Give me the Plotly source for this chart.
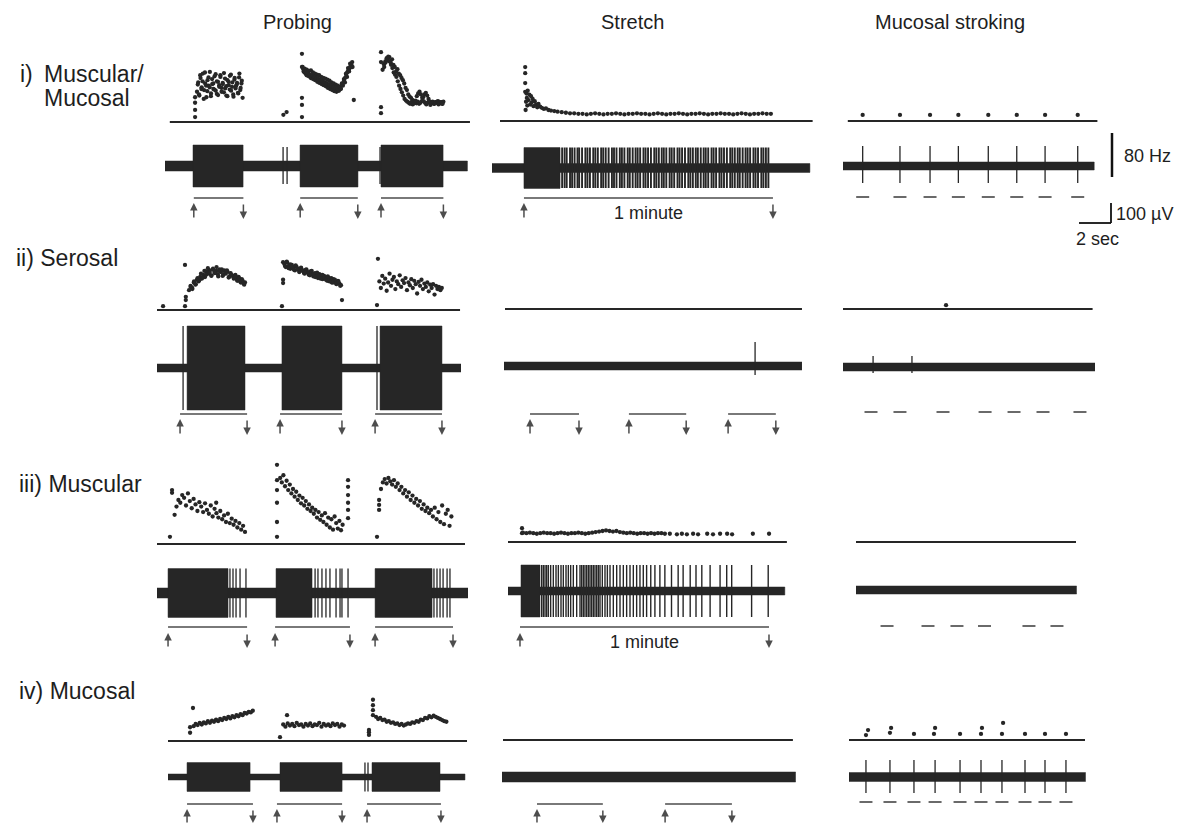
import numpy as np
import plotly.graph_objects as go

W, H = 1184, 824

# ---------------- scales (taken from the scale bars) ----------------
PX_PER_HZ = 0.55      # 80 Hz bar
PX_PER_UV = 0.20      # 100 uV bar
PPS_SHORT = 16.0      # 2 sec bar (probing / stroking), pixels per second
PPS_STRETCH = 4.15    # 1 minute bar

COLUMN_TITLES = ["Probing", "Stretch", "Mucosal stroking"]

# ================= DATA (seconds, Hz, uV) =================
# ---- row i : Muscular/Mucosal ----
R1P_BLOCKS = [(1.75, 4.88), (8.44, 12.06), (13.50, 17.38)]
R1P_SPIKES = [7.38, 7.63, 13.44]
R1P_STIM = [(1.80, 4.90), (8.45, 12.05), (13.50, 17.40)]
R1P_DOT_T = [1.88, 1.88, 1.88, 1.88, 7.40, 7.60, 8.56, 8.56, 8.56, 8.56, 8.56, 11.80, 13.50, 13.50, 13.50, 13.50]
R1P_DOT_F = [9, 22, 35, 45, 13, 18, 124, 100, 44, 31, 9, 40, 127, 109, 27, 16]
R1P_B1_F = [55, 72, 48, 80, 63, 88, 58, 70, 45, 76, 66, 91, 52, 69, 60, 83, 57, 74, 49, 67,
            85, 62, 71, 54, 79, 65, 47, 73, 59, 86, 64, 50, 77, 61, 68, 53, 81, 58, 70, 44]
R1P_B1b_F = [68, 50, 85, 60, 74, 42, 90, 66, 56, 81, 63, 47, 78, 70, 59, 87, 51, 73, 64, 82,
             55, 69, 89, 61, 48, 76, 67, 84, 57, 72, 46, 80, 65, 71, 52, 88, 62, 75]
R1P_B2_F = [100, 92, 97, 88, 95, 90, 93, 86, 94, 84, 90, 83, 88, 80, 86, 78, 85, 76, 82, 75,
            80, 72, 79, 70, 77, 68, 75, 66, 72, 63, 70, 60, 68, 58, 66, 57, 64, 60, 70, 66,
            78, 72, 88, 82, 98, 92, 106, 100, 109]
R1P_B2b_F = [96, 90, 91, 85, 89, 83, 86, 80, 84, 78, 82, 76, 80, 73, 78, 71, 76, 69, 74, 67,
             72, 65, 70, 62, 68, 60, 66, 58, 64, 56, 62, 55, 60, 57, 63, 61, 68, 70, 75, 80,
             86, 90, 94, 97, 101, 104, 100]
R1P_B3_F = [95, 105, 110, 116, 112, 118, 108, 114, 104, 100, 92, 96, 88, 85, 80, 76, 70, 62,
            58, 50, 46, 44, 40, 38, 36, 34, 37, 33, 35, 38, 45, 50, 53, 48, 42, 36, 34, 37,
            33, 36, 35, 38, 34, 36, 33, 37]
R1P_B3b_F = [100, 108, 114, 119, 110, 104, 98, 90, 86, 82, 74, 66, 60, 54, 48, 42, 39, 37, 35,
             33, 36, 32, 34, 39, 47, 52, 55, 50, 44, 38, 35, 32, 35, 38, 31, 34, 36, 33, 35,
             37, 32, 34, 36, 33]

R1S_BLOCKS = [(7.7, 16.4)]
R1S_SPIKES = [16.9, 17.5, 18.0, 18.8, 19.3, 19.9, 20.6, 21.0, 21.7, 22.5, 23.0, 23.6, 24.4,
              24.9, 25.5, 26.3, 26.8, 27.4, 28.1, 28.9, 29.4, 30.0, 30.8, 31.3, 31.9, 32.7,
              33.2, 33.9, 34.6, 35.1, 35.7, 36.5, 37.0, 37.6, 38.3, 39.1, 39.6, 40.2, 40.9,
              41.4, 42.0, 42.8, 43.3, 43.9, 44.7, 45.2, 45.8, 46.5, 47.3, 47.8, 48.4, 49.1,
              49.6, 50.3, 51.0, 51.5, 52.1, 52.9, 53.4, 54.0, 54.8, 55.3, 55.9, 56.6, 57.4,
              57.9, 58.5, 59.2, 59.7, 60.4, 61.1, 61.6, 62.2, 63.0, 63.5, 64.1, 64.9, 65.4,
              66.0, 66.6]
R1S_STIM = [(7.7, 67.7)]
R1S_DOT_T = [8.0, 8.0, 8.0, 8.0, 8.1, 8.2, 8.3, 8.4, 8.5, 8.6, 8.8, 9.0, 9.2, 9.4, 9.6, 9.8,
             10.0, 10.3, 10.6, 10.9, 11.2, 11.6, 12.0, 12.5, 13.0, 13.6, 14.2, 15.0, 15.8,
             16.8, 17.8, 18.8]
R1S_DOT_F = [98, 87, 69, 53, 20, 35, 50, 42, 28, 55, 38, 48, 30, 45, 34, 40, 27, 36, 30, 25,
             31, 26, 24, 22, 23, 20, 19, 18, 17, 16, 15, 14]
R1S_TAIL_F = [14, 13, 13, 12, 13, 14, 13, 12, 13, 13, 14, 13, 12, 13, 13, 14, 13, 13, 12, 13,
              14, 13, 12, 13, 13, 14, 13, 12, 13, 13, 14, 13, 12, 13, 13, 14, 13, 13, 12, 13,
              14, 13, 12, 13, 13, 14, 13, 13]

R1K_STROKES = [1.23, 3.56, 5.44, 7.21, 9.08, 10.86, 12.63, 14.67]
R1K_DOT_F = [11, 11, 11, 11, 11, 11, 11, 11]

# ---- row ii : Serosal ----
R2P_BLOCKS = [(1.88, 5.50), (7.81, 11.56), (13.94, 17.81)]
R2P_SPIKES = [1.63, 13.75]
R2P_STIM = [(1.44, 5.63), (7.69, 11.56), (13.63, 17.81)]
R2P_DOT_T = [0.38, 1.75, 1.80, 1.80, 1.75, 7.81, 7.88, 7.88, 7.88, 11.56, 13.75, 13.81]
R2P_DOT_F = [7, 7, 18, 24, 82, 7, 49, 55, 87, 18, 9, 93]
R2P_B1_F = [36, 44, 40, 50, 46, 55, 52, 60, 57, 64, 60, 70, 66, 72, 63, 75, 68, 71, 65, 74,
            69, 62, 72, 66, 70, 60, 67, 63, 58, 64, 55, 60, 52, 56, 48, 50]
R2P_B1b_F = [42, 38, 52, 47, 58, 54, 66, 59, 71, 64, 76, 68, 62, 73, 67, 78, 61, 70, 74, 64,
             68, 72, 59, 66, 62, 57, 61, 53, 58, 50, 54, 46]
R2P_B2_F = [84, 78, 86, 80, 75, 82, 77, 72, 79, 74, 70, 76, 71, 67, 73, 68, 64, 70, 66, 61,
            67, 63, 58, 65, 60, 56, 62, 57, 53, 59, 54, 50, 56, 51, 47, 53, 48, 45]
R2P_B2b_F = [80, 88, 76, 83, 79, 73, 81, 75, 69, 77, 72, 66, 74, 69, 63, 71, 65, 60, 68, 62,
             57, 64, 59, 55, 61, 52, 58, 50, 55, 49, 52, 44]
R2P_B3_F = [52, 40, 62, 48, 57, 35, 50, 66, 44, 55, 60, 38, 52, 47, 63, 42, 54, 49, 58, 36,
            50, 45, 56, 40, 53, 47, 30, 51, 44, 55, 38, 48, 42, 50, 34, 46, 40, 47, 28, 44,
            38, 42, 36, 40]

R2S_SPIKES = [60.5]
R2S_STIM = [(6.27, 18.07), (30.1, 43.9), (54.0, 65.5)]

R2K_SPIKES = [1.88, 4.31]
R2K_DOT_T = [6.44]
R2K_DOT_F = [7]
R2K_STROKES = [1.75, 3.56, 6.25, 8.88, 10.69, 12.50, 14.81]

# ---- row iii : Muscular ----
R3P_BLOCKS = [(0.69, 4.44), (7.44, 9.69), (13.63, 17.19)]
R3P_SPIKES = [4.56, 4.75, 4.94, 5.19, 5.56, 9.88, 10.06, 10.31, 10.56, 10.81, 11.19, 11.44,
              11.56, 11.94, 17.31, 17.50, 17.69, 17.88, 18.13, 18.31]
R3P_STIM = [(0.69, 5.63), (7.38, 12.06), (13.63, 18.50)]
R3P_DOT_T = [0.81, 0.94, 0.94, 7.50, 7.50, 7.50, 7.50, 7.50, 7.50, 11.94, 11.94, 11.94,
             11.94, 11.94, 11.94, 13.75, 13.88, 13.88, 13.88, 3.70]
R3P_DOT_F = [13, 98, 93, 13, 40, 75, 144, 116, 98, 116, 104, 89, 75, 62, 47, 13, 62, 71, 80, 75]
R3P_B1_F = [53, 68, 80, 75, 89, 84, 70, 92, 78, 65, 82, 72, 60, 76, 68, 58, 74, 62, 55, 70,
            50, 64, 56, 48, 60, 45, 52, 40, 55, 38, 46, 35, 42, 30, 38, 26, 33, 22]
R3P_B2_F = [120, 112, 125, 105, 115, 98, 108, 92, 100, 86, 95, 80, 88, 74, 84, 70, 78, 64, 72,
            60, 66, 55, 62, 48, 58, 44, 52, 40, 56, 35, 48, 30, 45, 26, 50, 38, 28, 42, 25, 35]
R3P_B3_F = [100, 112, 118, 110, 120, 114, 108, 116, 104, 110, 98, 104, 92, 98, 86, 94, 80, 88,
            75, 82, 70, 78, 64, 72, 60, 66, 56, 62, 50, 66, 45, 58, 40, 70, 36, 55, 62, 33, 50]

R3S_BLOCKS = [(3.13, 7.71)]
R3S_SPIKES = [8.11, 8.51, 8.92, 9.32, 9.72, 10.28, 10.92, 11.57, 12.13, 12.77, 13.33, 13.98,
              14.54, 15.10, 15.74, 16.55, 17.35, 17.75, 18.15, 18.55, 18.96, 19.36, 19.76,
              20.16, 20.56, 20.96, 21.37, 21.77, 22.17, 22.73, 23.37, 23.94, 24.58, 25.38,
              26.19, 26.99, 27.79, 28.59, 29.40, 30.20, 31.00, 31.80, 32.60, 33.40, 34.40,
              35.40, 36.60, 37.80, 39.40, 41.00, 42.20, 43.90, 45.30, 46.70, 48.70, 51.10,
              52.70, 53.90, 58.70, 62.70]
R3S_STIM = [(2.89, 62.89)]
R3S_DOT_T = [3.37, 3.37, 39.0, 40.7, 41.9, 43.1, 44.6, 45.8, 48.0, 49.4, 51.1, 52.8, 54.0,
             59.0, 62.9]
R3S_DOT_F = [25, 16, 15, 14, 15, 14, 15, 14, 15, 14, 15, 15, 14, 15, 15]
R3S_BAND_F = [17, 16, 17, 16, 15, 16, 17, 16, 16, 15, 16, 17, 16, 15, 16, 16, 17, 16, 15, 16,
              17, 18, 19, 20, 21, 20, 19, 20, 18, 17, 16, 17, 16, 15, 16, 16, 15, 16, 15, 16,
              16, 15]

R3K_STROKES = [1.94, 4.50, 6.31, 8.03, 10.81, 12.56]

# ---- row iv : Mucosal ----
R4P_BLOCKS = [(1.19, 5.13), (7.00, 10.88), (12.75, 17.00)]
R4P_SPIKES = [12.31, 12.50]
R4P_STIM = [(1.19, 5.31), (6.81, 10.88), (12.44, 17.06)]
R4P_DOT_T = [1.38, 1.38, 1.56, 7.00, 7.44, 12.56, 12.56, 12.56, 12.81, 12.81, 12.81, 12.81]
R4P_DOT_F = [15, 25, 60, 7, 47, 11, 16, 20, 75, 65, 56, 47]
R4P_B1_F = [27, 31, 29, 33, 30, 34, 32, 36, 33, 37, 35, 39, 36, 40, 38, 42, 40, 44, 41, 45,
            43, 47, 45, 49, 47, 51, 50, 53, 52, 55]
R4P_B2_F = [30, 26, 32, 28, 31, 27, 33, 29, 30, 26, 31, 28, 32, 27, 30, 29, 33, 26, 31, 28,
            30, 27, 32, 29, 31, 26, 30, 28]
R4P_B3_F = [44, 40, 42, 38, 39, 35, 36, 33, 34, 31, 32, 29, 31, 28, 30, 32, 31, 34, 33, 36,
            35, 39, 38, 42, 41, 45, 43, 46, 44, 42, 40, 38, 36, 35]

R4S_STIM = [(8.43, 24.3), (39.3, 55.4)]

R4K_STROKES = [1.06, 2.56, 4.06, 5.38, 6.94, 8.25, 9.56, 11.00, 12.25, 13.56]
R4K_DOT_T = [1.06, 1.19, 2.56, 2.63, 4.06, 5.31, 5.38, 6.94, 8.25, 8.31, 9.56, 9.63, 11.00,
             12.25, 13.56]
R4K_DOT_F = [9, 18, 13, 22, 11, 11, 22, 11, 11, 22, 11, 31, 11, 11, 11]

# ================= LAYOUT CONSTANTS (pixels) =================
ROW_STIM_Y = [198, 414, 627, 804]
ROW_ARROW = [(203, 219), (419, 435), (633, 648), (809, 824)]
ROW_DASH_Y = [197, 412, 626, 802]
DASH_HALF = 6.5 / PPS_SHORT
INK = "#262626"
GREY = "#4d4d4d"
FONT = "Liberation Sans, Arial, sans-serif"


def spread(t0, t1, vals):
    return list(np.linspace(t0, t1, len(vals)))


panels = [
    # ---- row i ----
    dict(row=0, x0=165, pps=PPS_SHORT, tmax=19.1, fb=122, tb=166,
         fspan=(0.3, 19.06), rec=(0, 18.9), noise=25, blocks=R1P_BLOCKS, bamp=105,
         spikes=R1P_SPIKES, sup=95, sdn=90, sw=1.3, stim=R1P_STIM,
         dots=[(R1P_DOT_T, R1P_DOT_F), (spread(2.0, 4.85, R1P_B1_F), R1P_B1_F),
               (spread(2.05, 4.8, R1P_B1b_F), R1P_B1b_F),
               (spread(8.6, 11.7, R1P_B2_F), R1P_B2_F),
               (spread(8.65, 11.72, R1P_B2b_F), R1P_B2b_F),
               (spread(13.6, 17.4, R1P_B3_F), R1P_B3_F),
               (spread(13.7, 17.35, R1P_B3b_F), R1P_B3b_F)]),
    dict(row=0, x0=492, pps=PPS_STRETCH, tmax=77.3, fb=121, tb=168,
         fspan=(1.93, 77.3), rec=(0, 76.6), noise=22, blocks=R1S_BLOCKS, bamp=102,
         spikes=R1S_SPIKES, sup=102, sdn=100, sw=1.9, stim=R1S_STIM, minute=True,
         dots=[(R1S_DOT_T, R1S_DOT_F), (spread(19.8, 67.2, R1S_TAIL_F), R1S_TAIL_F)]),
    dict(row=0, x0=843, pps=PPS_SHORT, tmax=15.95, fb=121, tb=166,
         fspan=(0.3, 15.9), rec=(0, 15.7), noise=20, blocks=[], bamp=0,
         spikes=R1K_STROKES, sup=100, sdn=85, sw=1.3, dashes=R1K_STROKES,
         dots=[(R1K_STROKES, R1K_DOT_F)]),
    # ---- row ii ----
    dict(row=1, x0=157, pps=PPS_SHORT, tmax=19.0, fb=310, tb=368,
         fspan=(0, 18.94), rec=(0, 19.0), noise=20, blocks=R2P_BLOCKS, bamp=210,
         spikes=R2P_SPIKES, sup=210, sdn=210, sw=1.3, stim=R2P_STIM,
         dots=[(R2P_DOT_T, R2P_DOT_F), (spread(2.0, 5.5, R2P_B1_F), R2P_B1_F),
               (spread(2.1, 5.45, R2P_B1b_F), R2P_B1b_F),
               (spread(7.95, 11.5, R2P_B2_F), R2P_B2_F),
               (spread(8.0, 11.45, R2P_B2b_F), R2P_B2b_F),
               (spread(13.9, 17.8, R2P_B3_F), R2P_B3_F)]),
    dict(row=1, x0=504, pps=PPS_STRETCH, tmax=71.8, fb=309, tb=366,
         fspan=(0.24, 71.8), rec=(0, 71.8), noise=20, blocks=[], bamp=0,
         spikes=R2S_SPIKES, sup=120, sdn=45, sw=1.3, stim=R2S_STIM, dots=[]),
    dict(row=1, x0=843, pps=PPS_SHORT, tmax=15.75, fb=309, tb=367,
         fspan=(0, 15.6), rec=(0, 15.75), noise=20, blocks=[], bamp=0,
         spikes=R2K_SPIKES, sup=55, sdn=30, sw=1.3, dashes=R2K_STROKES,
         dots=[(R2K_DOT_T, R2K_DOT_F)]),
    # ---- row iii ----
    dict(row=2, x0=157, pps=PPS_SHORT, tmax=19.44, fb=544, tb=593,
         fspan=(0, 19.25), rec=(0, 19.44), noise=25, blocks=R3P_BLOCKS, bamp=122,
         spikes=R3P_SPIKES, sup=122, sdn=122, sw=1.3, stim=R3P_STIM,
         dots=[(R3P_DOT_T, R3P_DOT_F), (spread(1.1, 5.5, R3P_B1_F), R3P_B1_F),
               (spread(7.7, 11.6, R3P_B2_F), R3P_B2_F), (spread(14.0, 18.4, R3P_B3_F), R3P_B3_F)]),
    dict(row=2, x0=508, pps=PPS_STRETCH, tmax=67.2, fb=542, tb=591,
         fspan=(0, 67.2), rec=(0, 66.7), noise=20, blocks=R3S_BLOCKS, bamp=130,
         spikes=R3S_SPIKES, sup=130, sdn=130, sw=1.4, stim=R3S_STIM, minute=True,
         dots=[(R3S_DOT_T, R3S_DOT_F), (spread(3.6, 37.8, R3S_BAND_F), R3S_BAND_F)]),
    dict(row=2, x0=856, pps=PPS_SHORT, tmax=13.8, fb=542, tb=590,
         fspan=(0, 13.75), rec=(0, 13.8), noise=20, blocks=[], bamp=0,
         spikes=[], sup=0, sdn=0, sw=1.3, dashes=R3K_STROKES, dots=[]),
    # ---- row iv ----
    dict(row=3, x0=168, pps=PPS_SHORT, tmax=18.7, fb=741, tb=777,
         fspan=(0, 18.69), rec=(0, 18.56), noise=15, blocks=R4P_BLOCKS, bamp=72,
         spikes=R4P_SPIKES, sup=72, sdn=72, sw=1.3, stim=R4P_STIM,
         dots=[(R4P_DOT_T, R4P_DOT_F), (spread(1.6, 5.3, R4P_B1_F), R4P_B1_F),
               (spread(7.2, 11.0, R4P_B2_F), R4P_B2_F), (spread(13.0, 17.4, R4P_B3_F), R4P_B3_F)]),
    dict(row=3, x0=502, pps=PPS_STRETCH, tmax=70.8, fb=740, tb=777,
         fspan=(0.24, 70.1), rec=(0, 70.8), noise=25, blocks=[], bamp=0,
         spikes=[], sup=0, sdn=0, sw=1.3, stim=R4S_STIM, dots=[]),
    dict(row=3, x0=849, pps=PPS_SHORT, tmax=14.8, fb=740, tb=777,
         fspan=(0, 14.75), rec=(0, 14.8), noise=22, blocks=[], bamp=0,
         spikes=R4K_STROKES, sup=85, sdn=80, sw=1.3, dashes=R4K_STROKES,
         dots=[(R4K_DOT_T, R4K_DOT_F)]),
]


def rects(spans, amp):
    xs, ys = [], []
    for a, b in spans:
        xs += [a, b, b, a, a, None]
        ys += [-amp, -amp, amp, amp, -amp, None]
    return xs, ys


def spikes_xy(times, up, dn):
    xs, ys = [], []
    for t in times:
        xs += [t, t, None]
        ys += [-dn, up, None]
    return xs, ys


fig = go.Figure()
lay = {}
shapes = []
annots = []

for k, p in enumerate(panels, start=1):
    xa = "x" if k == 1 else f"x{k}"
    yfi, yti = 2 * k - 1, 2 * k
    yf = "y" if yfi == 1 else f"y{yfi}"
    yt = f"y{yti}"
    x1px = p["x0"] + p["tmax"] * p["pps"]
    lay["xaxis" if k == 1 else f"xaxis{k}"] = dict(
        domain=[p["x0"] / W, x1px / W], range=[0, p["tmax"]], visible=False, anchor=yf)
    fb, tb = p["fb"], p["tb"]
    lay["yaxis" if yfi == 1 else f"yaxis{yfi}"] = dict(
        domain=[1 - (fb + 6) / H, 1 - (fb - 114) / H],
        range=[-6 / PX_PER_HZ, 114 / PX_PER_HZ], visible=False, anchor=xa)
    lay[f"yaxis{yti}"] = dict(
        domain=[1 - (tb + 45) / H, 1 - (tb - 45) / H],
        range=[-45 / PX_PER_UV, 45 / PX_PER_UV], visible=False, anchor=xa)

    # frequency baseline
    fig.add_trace(go.Scatter(x=list(p["fspan"]), y=[0, 0], mode="lines",
                             line=dict(color=INK, width=2.2), xaxis=xa, yaxis=yf,
                             cliponaxis=False, hoverinfo="skip"))
    # instantaneous frequency dots
    for tt, ff in p["dots"]:
        fig.add_trace(go.Scatter(x=tt, y=ff, mode="markers",
                                 marker=dict(color=INK, size=4.3, line=dict(width=0)),
                                 xaxis=xa, yaxis=yf, cliponaxis=False, hoverinfo="skip"))
    # recording baseline noise band
    a, b = p["rec"]
    bx, by = rects([(a, b)], p["noise"])
    fig.add_trace(go.Scatter(x=bx, y=by, fill="toself", fillcolor=INK, mode="lines",
                             line=dict(color=INK, width=0.5), xaxis=xa, yaxis=yt,
                             cliponaxis=False, hoverinfo="skip"))
    # dense firing blocks
    if p["blocks"]:
        bx, by = rects(p["blocks"], p["bamp"])
        fig.add_trace(go.Scatter(x=bx, y=by, fill="toself", fillcolor=INK, mode="lines",
                                 line=dict(color=INK, width=0.5), xaxis=xa, yaxis=yt,
                                 cliponaxis=False, hoverinfo="skip"))
    # single spikes
    if p["spikes"]:
        sx, sy = spikes_xy(p["spikes"], p["sup"], p["sdn"])
        fig.add_trace(go.Scatter(x=sx, y=sy, mode="lines", line=dict(color=INK, width=p["sw"]),
                                 xaxis=xa, yaxis=yt, cliponaxis=False, hoverinfo="skip"))

    r = p["row"]
    # stimulus bars with arrows
    for (s, e) in p.get("stim", []):
        ys = 1 - ROW_STIM_Y[r] / H
        shapes.append(dict(type="line", xref=xa, yref="paper", x0=s, x1=e, y0=ys, y1=ys,
                           line=dict(color=GREY, width=1.6)))
        top, bot = ROW_ARROW[r]
        annots.append(dict(x=s, y=1 - top / H, xref=xa, yref="paper", text="", showarrow=True,
                           ax=0, ay=bot - top, arrowhead=2, arrowsize=1.0, arrowwidth=1.5,
                           arrowcolor=GREY))
        annots.append(dict(x=e, y=1 - bot / H, xref=xa, yref="paper", text="", showarrow=True,
                           ax=0, ay=-(bot - top), arrowhead=2, arrowsize=1.0, arrowwidth=1.5,
                           arrowcolor=GREY))
        if p.get("minute"):
            annots.append(dict(x=(s + e) / 2, y=1 - (ROW_STIM_Y[r] + 15) / H, xref=xa,
                               yref="paper", text="1 minute", showarrow=False,
                               font=dict(family=FONT, size=18, color="#222"),
                               xanchor="center", yanchor="middle"))
    # stroke markers
    for t in p.get("dashes", []):
        yd = 1 - ROW_DASH_Y[r] / H
        shapes.append(dict(type="line", xref=xa, yref="paper", x0=t - DASH_HALF,
                           x1=t + DASH_HALF, y0=yd, y1=yd, line=dict(color="#6a6a6a", width=2)))

# ---------------- scale bars (paper, lengths from the scales) ----------------
def PX(x):
    return x / W


def PY(y):
    return 1 - y / H


hz_bot = 177
shapes.append(dict(type="line", xref="paper", yref="paper", x0=PX(1112), x1=PX(1112),
                   y0=PY(hz_bot), y1=PY(hz_bot - 80 * PX_PER_HZ), line=dict(color="#111", width=2.5)))
uv_bot = 223
shapes.append(dict(type="line", xref="paper", yref="paper", x0=PX(1111), x1=PX(1111),
                   y0=PY(uv_bot), y1=PY(uv_bot - 100 * PX_PER_UV), line=dict(color="#111", width=1.8)))
shapes.append(dict(type="line", xref="paper", yref="paper", x0=PX(1111 - 2 * PPS_SHORT),
                   x1=PX(1111), y0=PY(uv_bot), y1=PY(uv_bot), line=dict(color="#111", width=1.8)))


def label(text, x, y, size, anchor="left"):
    annots.append(dict(x=PX(x), y=PY(y), xref="paper", yref="paper", text=text, showarrow=False,
                       xanchor=anchor, yanchor="middle",
                       font=dict(family=FONT, size=size, color="#1e1e1e")))


label("80 Hz", 1122, 156, 18)
label("100 µV", 1114, 214, 18)
label("2 sec", 1074, 239, 18)

# column titles
label(COLUMN_TITLES[0], 297, 22, 20, "center")
label(COLUMN_TITLES[1], 632, 22, 20, "center")
label(COLUMN_TITLES[2], 950, 22, 20, "center")

# row labels
label("i)", 18, 74, 23)
label("Muscular/", 42, 74, 23)
label("Mucosal", 42, 98, 23)
label("ii) Serosal", 14, 258, 23)
label("iii) Muscular", 17, 484, 23)
label("iv) Mucosal", 17, 691, 23)

fig.update_layout(width=W, height=H, margin=dict(l=0, r=0, t=0, b=0, pad=0),
                  paper_bgcolor="white", plot_bgcolor="rgba(0,0,0,0)", showlegend=False,
                  shapes=shapes, annotations=annots, **lay)

fig.write_html("out.html")
